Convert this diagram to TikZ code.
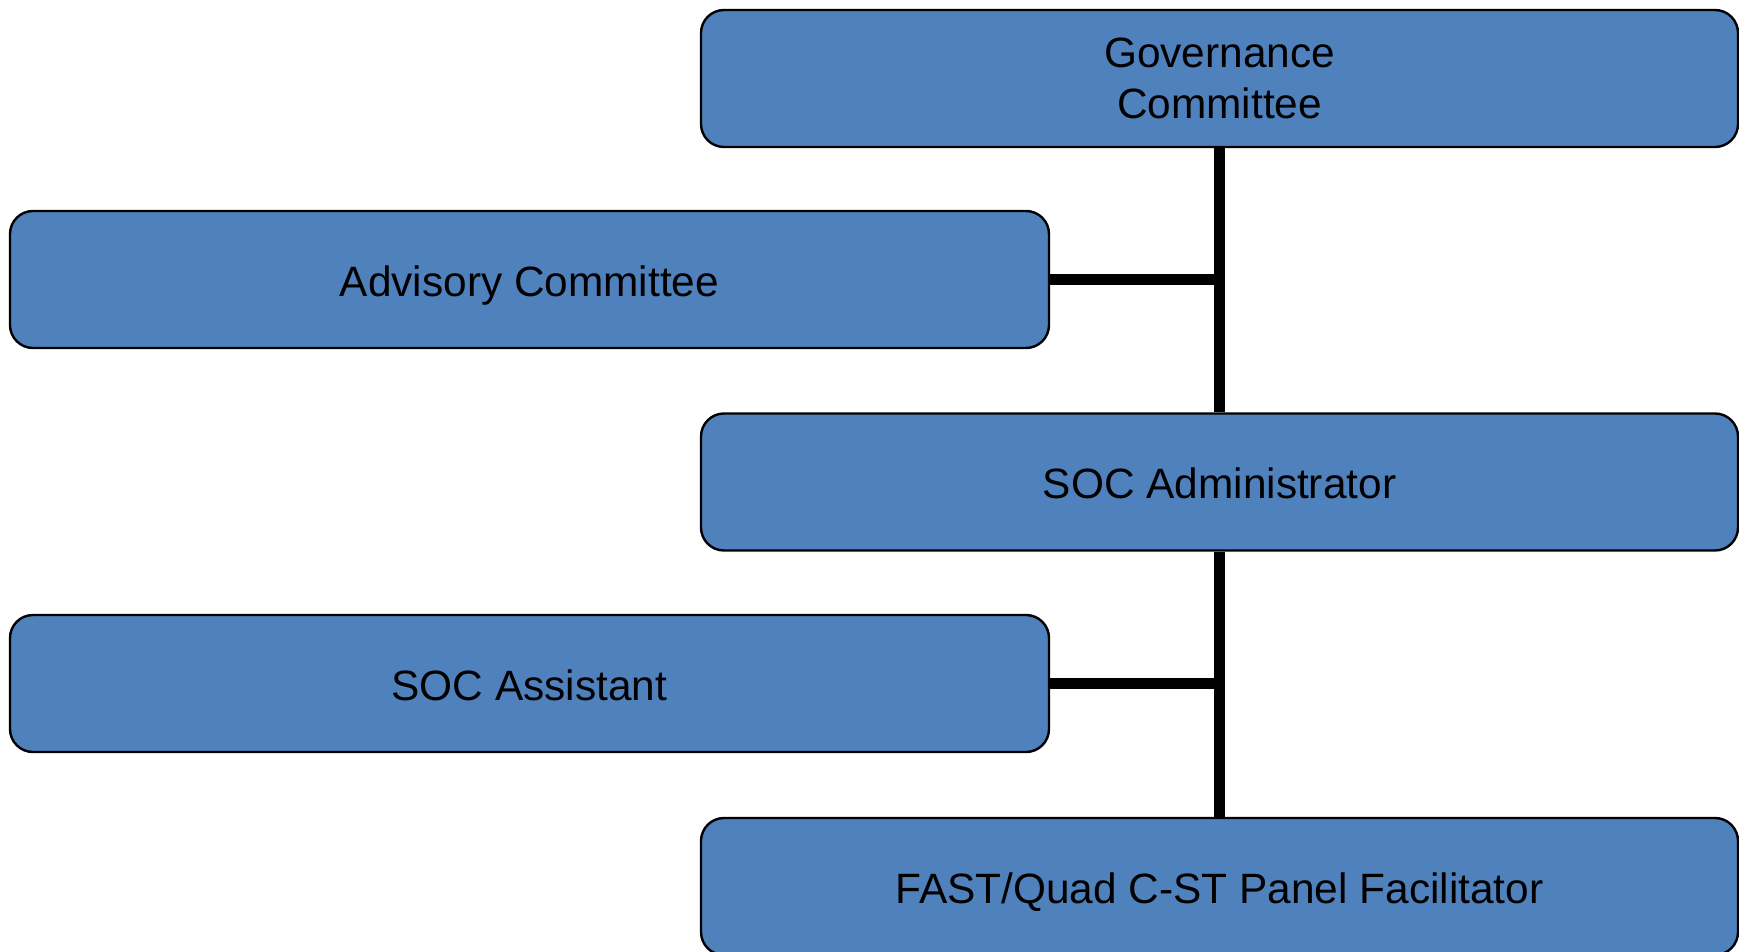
\documentclass[tikz,border=0pt]{standalone}
\usepackage{fontspec}
\setmainfont{Liberation Sans}
\definecolor{boxblue}{HTML}{4F81BD}
\begin{document}
\begin{tikzpicture}[x=0.5pt,y=-0.5pt,
  orgbox/.style={draw=black,line width=1.2pt,fill=boxblue,rounded corners=11.5pt,
    rectangle,inner sep=0pt,minimum height=68.5pt,align=center,
    font=\fontsize{21.2}{25.5}\selectfont},
  oneline/.style={text height=16.8pt,text depth=0pt},
  rightbox/.style={orgbox,minimum width=518.5pt},
  leftbox/.style={orgbox,minimum width=519.5pt},
  link/.style={draw=black,line width=5.6pt}]
\useasboundingbox (0,0) rectangle (1739,952);
\node[rightbox,yshift=-0.5pt] (gov) at (1219.5,77.5) {Governance\\Committee};
\node[leftbox,oneline] (adv) at (529.5,279.5) {Advisory Committee};
\node[rightbox,oneline] (adm) at (1219.5,482) {SOC Administrator};
\node[leftbox,oneline] (ast) at (529.5,683.5) {SOC Assistant};
\node[rightbox,oneline] (fast) at (1219.5,886.5) {FAST/Quad C-ST Panel Facilitator};
\draw[link] (gov) -- (adm);
\draw[link] (adm) -- (fast);
\draw[link] (adv.east) -- (adv.east -| gov.south);
\draw[link] (ast.east) -- (ast.east -| adm.south);
\end{tikzpicture}
\end{document}
